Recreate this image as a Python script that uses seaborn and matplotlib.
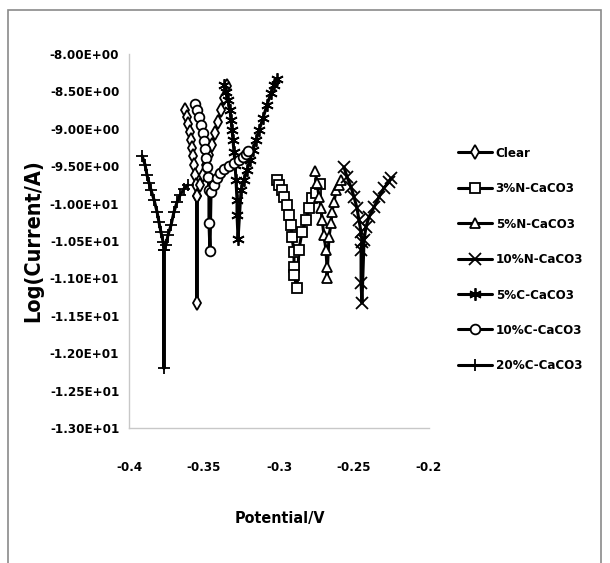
import numpy as np
import pandas as pd
import matplotlib
matplotlib.use("Agg")
import matplotlib.pyplot as plt
import seaborn as sns
from matplotlib.patches import Rectangle

sns.set_style("white")
plt.rcParams['font.family'] = ['Liberation Sans Narrow', 'DejaVu Sans']
plt.rcParams['font.stretch'] = 'condensed'
for k in ['text.color', 'axes.labelcolor', 'xtick.color', 'ytick.color']:
    plt.rcParams[k] = 'black'

# Tafel curves: potential (V) and log(current/A)
clear_x = [-0.3627, -0.3613, -0.3607, -0.3593, -0.3587, -0.358, -0.3573, -0.3567, -0.356, -0.3553, -0.3547,
           -0.3547, -0.3547,
           -0.3527, -0.3507, -0.3487, -0.3467, -0.3447, -0.3427, -0.3407, -0.3387, -0.3367, -0.3347]
clear_y = [-8.75, -8.84, -8.94, -9.04, -9.15, -9.26, -9.36, -9.48, -9.62, -9.75, -9.90,
           -11.33, -9.90,
           -9.75, -9.62, -9.48, -9.35, -9.22, -9.06, -8.91, -8.75, -8.59, -8.43]

n3_x = [-0.3013, -0.3, -0.298, -0.2967, -0.2947, -0.2933, -0.292, -0.2913, -0.29, -0.29, -0.29, -0.288,
        -0.2867, -0.2847, -0.282, -0.28, -0.278, -0.2753, -0.2727]
n3_y = [-9.68, -9.75, -9.82, -9.91, -10.02, -10.15, -10.29, -10.45, -10.65, -10.85, -10.95, -11.13,
        -10.62, -10.38, -10.22, -10.06, -9.93, -9.86, -9.74]

n5_x = [-0.276, -0.2747, -0.2733, -0.272, -0.2713, -0.27, -0.2687, -0.268, -0.268,
        -0.2667, -0.2653, -0.2647, -0.2633, -0.262, -0.26, -0.2587]
n5_y = [-9.56, -9.72, -9.91, -10.06, -10.22, -10.42, -10.62, -10.85, -10.99,
        -10.45, -10.26, -10.11, -9.98, -9.82, -9.75, -9.68]

n10_x = [-0.2567, -0.2547, -0.252, -0.25, -0.248, -0.2467, -0.2453, -0.2447, -0.2453, -0.2453, -0.2447,
         -0.2433, -0.242, -0.24, -0.2367, -0.2333, -0.23, -0.2267, -0.2253]
n10_y = [-9.51, -9.64, -9.78, -9.91, -10.06, -10.22, -10.38, -10.51, -10.62, -11.06, -11.33,
         -10.49, -10.31, -10.18, -10.05, -9.91, -9.79, -9.71, -9.66]

c5_x = [-0.3367, -0.3353, -0.334, -0.3327, -0.332, -0.3313, -0.3307, -0.33, -0.3293, -0.3287, -0.328, -0.328, -0.3273,
        -0.3253, -0.3233, -0.3213, -0.3193, -0.3173, -0.3153, -0.3133, -0.3107, -0.308, -0.3053, -0.3033, -0.3013]
c5_y = [-8.41, -8.51, -8.61, -8.75, -8.88, -9.02, -9.15, -9.31, -9.48, -9.68, -9.95, -10.15, -10.47,
        -9.82, -9.68, -9.55, -9.42, -9.28, -9.15, -9.02, -8.86, -8.68, -8.52, -8.41, -8.33]

c10_x = [-0.356, -0.3547, -0.3533, -0.352, -0.3507, -0.35, -0.3493, -0.3487, -0.348, -0.3473, -0.3467,
         -0.3467, -0.346, -0.3453,
         -0.3433, -0.3413, -0.3393, -0.3367, -0.3333, -0.33, -0.3267, -0.324, -0.322, -0.3207]
c10_y = [-8.67, -8.75, -8.84, -8.95, -9.06, -9.16, -9.27, -9.39, -9.51, -9.64, -9.82,
         -10.26, -10.63, -9.84,
         -9.75, -9.66, -9.59, -9.54, -9.50, -9.46, -9.42, -9.38, -9.34, -9.30]

c20_x = [-0.3913, -0.3893, -0.388, -0.3867, -0.3853, -0.3833, -0.3813, -0.38, -0.3787, -0.3773, -0.3767,
         -0.3767, -0.3767,
         -0.3753, -0.374, -0.372, -0.37, -0.368, -0.366, -0.3633, -0.3607]
c20_y = [-9.36, -9.48, -9.62, -9.72, -9.82, -9.95, -10.11, -10.25, -10.38, -10.51, -10.62,
         -12.20, -10.62,
         -10.55, -10.42, -10.29, -10.11, -9.98, -9.89, -9.80, -9.75]

labels = ["Clear", "3%N-CaCO3", "5%N-CaCO3", "10%N-CaCO3", "5%C-CaCO3", "10%C-CaCO3", "20%C-CaCO3"]
xs = [clear_x, n3_x, n5_x, n10_x, c5_x, c10_x, c20_x]
ys = [clear_y, n3_y, n5_y, n10_y, c5_y, c10_y, c20_y]
markers = ["d", "s", "^", "x", (6, 2, 0), "o", "+"]
msizes = [7, 7, 7, 8, 9, 7, 9]

rows = []
for lab, x, y in zip(labels, xs, ys):
    for i, (a, b) in enumerate(zip(x, y)):
        rows.append({"series": lab, "idx": i, "potential": a, "logI": b})
df = pd.DataFrame(rows)

fig = plt.figure(figsize=(6.1, 5.63), dpi=100)
ax = fig.add_axes([129 / 610, 1 - 428 / 563, 300 / 610, 374 / 563])

for lab, mk, ms in zip(labels, markers, msizes):
    d = df[df["series"] == lab].sort_values("idx")
    sns.lineplot(data=d, x="potential", y="logI", sort=False, estimator=None, ax=ax,
                 color="black", linewidth=2.2, marker=mk, markersize=ms,
                 markerfacecolor="white", markeredgecolor="black", markeredgewidth=1.3,
                 label=lab)

ax.set_xlim(-0.4, -0.2)
ax.set_ylim(-13, -8)
ax.set_xticks([-0.4, -0.35, -0.3, -0.25, -0.2])
ax.set_xticklabels(["-0.4", "-0.35", "-0.3", "-0.25", "-0.2"])
ax.set_yticks(np.arange(-13, -7.9, 0.5))
ax.set_yticklabels(["%.2E" % v for v in np.arange(-13, -7.9, 0.5)])
ax.tick_params(axis="x", length=0, pad=24, labelsize=9.5, colors="black")
ax.tick_params(axis="y", length=0, pad=7, labelsize=9.5, colors="black")
for t in ax.get_xticklabels() + ax.get_yticklabels():
    t.set_fontweight("bold")
for s in ["top", "right"]:
    ax.spines[s].set_visible(False)
for s in ["left", "bottom"]:
    ax.spines[s].set_color("#c8c8c8")
    ax.spines[s].set_linewidth(1.0)

ax.set_xlabel("Potential/V", fontsize=11.5, fontweight="bold")
ax.xaxis.set_label_coords(0.503, -0.222)
ax.set_ylabel("Log(Current/A)", fontsize=15.5, fontweight="bold", family=["DejaVu Sans"])
ax.yaxis.set_label_coords(-0.285, 0.5)

leg = ax.legend(loc="center left", bbox_to_anchor=(1.057, 0.45), frameon=False, fontsize=9.5,
                handlelength=2.6, labelspacing=1.7, handletextpad=0.25)
for t in leg.get_texts():
    t.set_fontweight("bold")
    t.set_color("black")

fig.patches.append(Rectangle((8 / 610, -0.02), 593 / 610, 1.02 - 10 / 563, transform=fig.transFigure,
                             fill=False, edgecolor="#8a8a8a", linewidth=1.2))

fig.savefig("out.png", dpi=100)
